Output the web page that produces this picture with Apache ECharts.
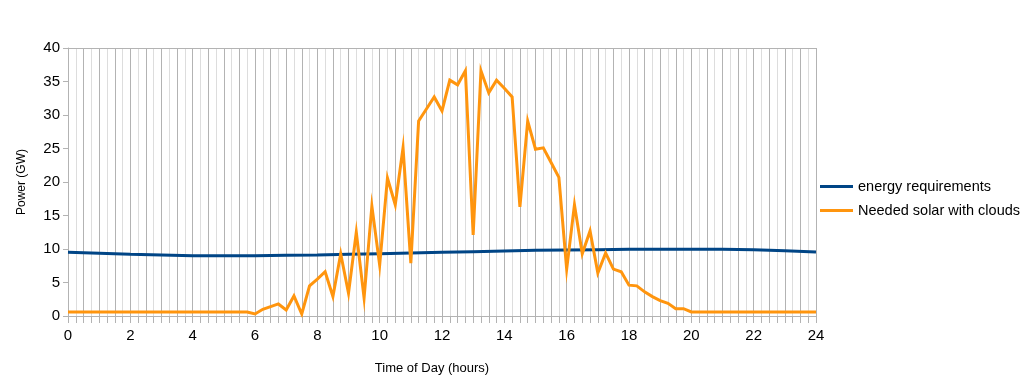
<!DOCTYPE html>
<html>
<head>
<meta charset="utf-8">
<script src="https://cdn.jsdelivr.net/npm/echarts@6/dist/echarts.min.js"></script>
<style>html,body{margin:0;padding:0;background:#fff}#c{width:1029px;height:389px}</style>
</head>
<body>
<div id="c"></div>
<script>
// Time axis ticks (hours)
const xTickLabels = ['0','2','4','6','8','10','12','14','16','18','20','22','24'];
// Energy requirements (GW), hourly 0..24
const demandHours = [0,1,2,3,4,5,6,7,8,9,10,11,12,13,14,15,16,17,18,19,20,21,22,23,24];
const demandValues = [9.5,9.35,9.2,9.1,9.0,9.0,9.0,9.05,9.1,9.2,9.3,9.4,9.5,9.6,9.7,9.8,9.85,9.9,9.95,9.95,9.95,9.95,9.9,9.75,9.55];
// Needed solar with clouds (GW), every 15 minutes 0..24
const solarValues = [
  0.6,0.6,0.6,0.6, 0.6,0.6,0.6,0.6, 0.6,0.6,0.6,0.6, 0.6,0.6,0.6,0.6, 0.6,0.6,0.6,0.6, 0.6,0.6,0.6,0.6,
  0.3,1.0,1.4,1.8, 0.9,3.0,0.3,4.5, 5.5,6.6,2.9,9.3, 3.4,12.5,2.7,16.4,
  7.6,20.6,16.6,25.1, 7.9,29.1,30.9,32.7, 30.6,35.2,34.5,36.6, 12.1,36.6,33.3,35.2,
  34.0,32.7,16.3,29.1, 24.9,25.1,22.9,20.7, 7.0,16.6,9.3,12.7, 6.4,9.4,7.0,6.6,
  4.6,4.5,3.6,2.9, 2.3,1.9,1.1,1.1, 0.6,0.6,0.6,0.6, 0.6,0.6,0.6,0.6, 0.6,0.6,0.6,0.6, 0.6,0.6,0.6,0.6, 0.6
];
const solarHours = solarValues.map((v, i) => i * 0.25);
const seriesNames = ['energy requirements', 'Needed solar with clouds'];

const FONT = '"Liberation Sans", Arial, sans-serif';
const chart = echarts.init(document.getElementById('c'), null, {renderer: 'canvas'});
chart.setOption({
  animation: false,
  backgroundColor: '#fff',
  textStyle: {fontFamily: FONT},
  grid: {left: 68, top: 48, width: 748, height: 268, containLabel: false},
  legend: {
    orient: 'vertical', left: 820, top: 179, padding: 0,
    itemWidth: 33, itemHeight: 3, itemGap: 9, icon: 'rect',
    textStyle: {fontFamily: FONT, fontSize: 14.5, color: '#000'},
    data: seriesNames
  },
  xAxis: [{
    type: 'value', min: 0, max: 24, interval: 2,
    name: 'Time of Day (hours)', nameLocation: 'middle', nameGap: 46,
    nameTextStyle: {fontFamily: FONT, fontSize: 13, color: '#000', padding: [0, 20, 0, 0]},
    axisLine: {show: true, lineStyle: {color: '#b3b3b3', width: 1}},
    axisTick: {show: true, length: 7, lineStyle: {color: '#b3b3b3'}},
    minorTick: {show: true, splitNumber: 8, length: 7, lineStyle: {color: '#b3b3b3'}},
    splitLine: {show: true, lineStyle: {color: '#b3b3b3', width: 1}},
    minorSplitLine: {show: true, lineStyle: {color: '#dddddd', width: 1}},
    axisLabel: {fontFamily: FONT, fontSize: 15, color: '#000', margin: 12,
      formatter: v => xTickLabels[Math.round(v / 2)]}
  }, {
    type: 'value', min: 0, max: 24, interval: 0.5, position: 'top',
    axisLine: {show: true, lineStyle: {color: '#b3b3b3', width: 1}},
    axisTick: {show: false}, axisLabel: {show: false},
    splitLine: {show: true, lineStyle: {color: '#b3b3b3', width: 1}}
  }],
  yAxis: {
    type: 'value', min: 0, max: 40, interval: 5,
    name: 'Power (GW)', nameLocation: 'middle', nameGap: 40,
    nameTextStyle: {fontFamily: FONT, fontSize: 12, color: '#000'},
    axisLine: {show: true, lineStyle: {color: '#b3b3b3', width: 1}},
    axisTick: {show: true, length: 5, lineStyle: {color: '#b3b3b3'}},
    splitLine: {show: false},
    axisLabel: {fontFamily: FONT, fontSize: 15, color: '#000', margin: 8}
  },
  series: [{
    name: seriesNames[0], type: 'line', showSymbol: false, symbol: 'none',
    color: '#004586', lineStyle: {width: 3, color: '#004586'}, z: 3,
    data: demandHours.map((h, i) => [h, demandValues[i]])
  }, {
    name: seriesNames[1], type: 'line', showSymbol: false, symbol: 'none',
    color: '#ff950e', lineStyle: {width: 3, color: '#ff950e', join: 'miter'}, z: 4,
    data: solarHours.map((h, i) => [h, solarValues[i]])
  }]
});
</script>
</body>
</html>
